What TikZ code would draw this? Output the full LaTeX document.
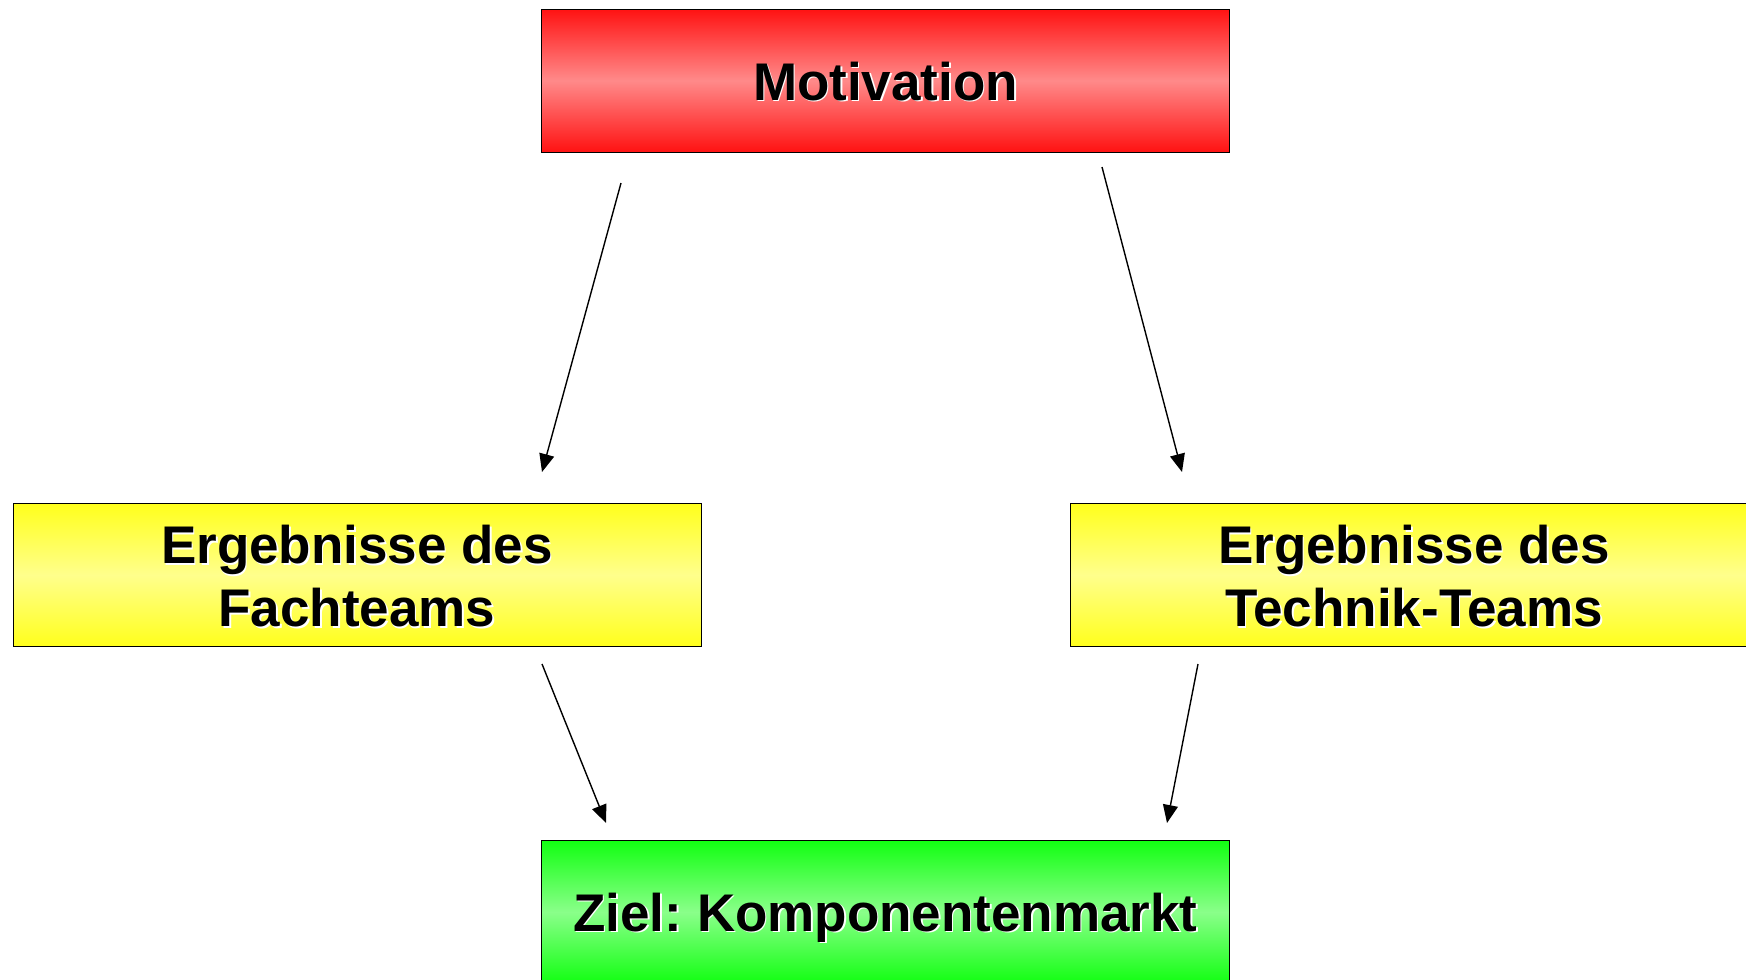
\documentclass[tikz,border=0pt]{standalone}
\usepackage{fontspec}
\setmainfont{Liberation Sans}
\usetikzlibrary{arrows.meta}
\frenchspacing
\definecolor{redEdge}{RGB}{255,18,18}
\definecolor{redMid}{RGB}{255,138,138}
\definecolor{yelEdge}{RGB}{255,255,28}
\definecolor{yelMid}{RGB}{255,255,140}
\definecolor{grnEdge}{RGB}{18,255,18}
\definecolor{grnMid}{RGB}{138,255,138}
% bold label with a white drop shadow
\newcommand\shadowline[1]{\leavevmode\rlap{\hspace{1.6pt}\raisebox{-1.6pt}{\color{white}#1}}#1}
% one line, baseline placed below the box centre
\newcommand\oneline[2]{\raisebox{-#1}[0pt][0pt]{\shadowline{#2}}}
% two centred lines, placed below the box centre
\newcommand\twolines[2]{\raisebox{-14pt}[0pt][0pt]{\begin{tabular}{@{}c@{}}\shadowline{#1}\\\shadowline{#2}\end{tabular}}}
\tikzset{
  box/.style={draw=black, line width=1pt, minimum width=688pt, minimum height=143pt,
    inner sep=0pt, align=center, font=\fontsize{53}{63}\selectfont\bfseries},
  redbox/.style={box, top color=redEdge, bottom color=redEdge, middle color=redMid},
  yelbox/.style={box, top color=yelEdge, bottom color=yelEdge, middle color=yelMid},
  grnbox/.style={box, top color=grnEdge, bottom color=grnEdge, middle color=grnMid},
  flow/.style={draw=black, line width=1.4pt, -{Triangle[length=18pt,width=15pt]}}
}
\begin{document}
\begin{tikzpicture}[x=1pt,y=-1pt]
\useasboundingbox (0,0) rectangle (1746,980);
\node[redbox] (mot) at (885.5,80.5) {\oneline{19.5pt}{Motivation}};
\node[yelbox] (fach) at (357,575) {\twolines{Ergebnisse des}{Fachteams}};
\node[yelbox] (tech) at (1414,575) {\twolines{Ergebnisse des}{Technik-Teams}};
\node[grnbox] (ziel) at (885.5,912) {\oneline{19pt}{Ziel: Komponentenmarkt}};
\coordinate (a1) at (621,183);  \coordinate (b1) at (542,472);
\coordinate (a2) at (1102,167); \coordinate (b2) at (1182,472);
\coordinate (a3) at (542,664);  \coordinate (b3) at (606,823);
\coordinate (a4) at (1198,664); \coordinate (b4) at (1167,823);
\draw[flow] (a1) -- (b1);
\draw[flow] (a2) -- (b2);
\draw[flow] (a3) -- (b3);
\draw[flow] (a4) -- (b4);
\end{tikzpicture}
\end{document}
